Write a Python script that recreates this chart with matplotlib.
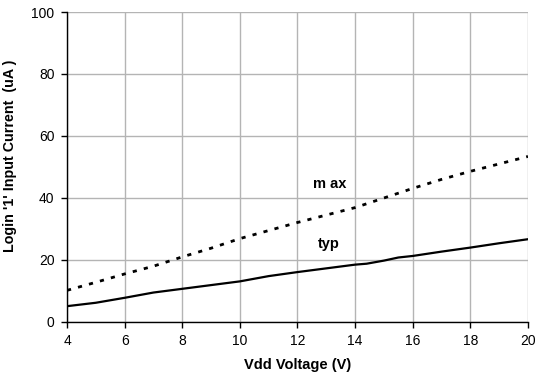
import matplotlib
matplotlib.use("Agg")
import matplotlib.pyplot as plt

# Vdd voltage (V) and logic '1' input current (uA)
vdd = [4, 5, 6, 7, 8, 9, 10, 11, 12, 13, 14, 14.4, 15, 15.5, 16, 17, 18, 19, 20]
typ = [5.1, 6.2, 7.8, 9.5, 10.7, 11.9, 13.1, 14.8, 16.1, 17.3, 18.5, 18.8, 19.8, 20.8, 21.3, 22.7, 24.0, 25.4, 26.7]
max_vdd = [4, 5, 6, 7, 8, 9, 10, 11, 12, 13, 14, 15, 16, 17, 18, 19, 20]
max_cur = [10.2, 12.8, 15.5, 18.0, 21.0, 23.8, 26.9, 29.5, 32.1, 34.5, 36.9, 40.0, 43.1, 46.0, 48.6, 51.0, 53.4]

x_ticks = [4, 6, 8, 10, 12, 14, 16, 18, 20]
y_ticks = [0, 20, 40, 60, 80, 100]

plt.rcParams['font.family'] = ['Liberation Sans', 'DejaVu Sans']

fig = plt.figure(figsize=(5.37, 3.81), dpi=100)
ax = fig.add_axes([0.1248, 0.1549, 0.8584, 0.8136])

ax.plot(vdd, typ, color='black', linewidth=1.6)
ax.plot(max_vdd, max_cur, color='black', linewidth=2.0, linestyle=(0, (1.5, 2.6)))

ax.text(13.1, 44.5, 'm ax', fontsize=10.5, fontweight='bold', ha='center', va='center')
ax.text(13.1, 25.3, 'typ', fontsize=10.5, fontweight='bold', ha='center', va='center')

ax.set_xlim(4, 20)
ax.set_ylim(0, 100)
ax.set_xticks(x_ticks)
ax.set_yticks(y_ticks)
ax.grid(True, color='#b4b4b4', linewidth=1.0)
ax.set_axisbelow(True)
for s in ['top', 'right']:
    ax.spines[s].set_visible(False)
for s in ['left', 'bottom']:
    ax.spines[s].set_linewidth(1.0)
ax.tick_params(direction='out', length=4, width=1, labelsize=10, pad=5)

ax.set_xlabel('Vdd Voltage (V)', fontsize=10.5, fontweight='bold')
ax.xaxis.set_label_coords(0.5, -0.115)
ax.set_ylabel("Login '1' Input Current  (uA )", fontsize=10.3, fontweight='bold')
ax.yaxis.set_label_coords(-0.1075, 0.535)

fig.savefig('out.png', dpi=100)
